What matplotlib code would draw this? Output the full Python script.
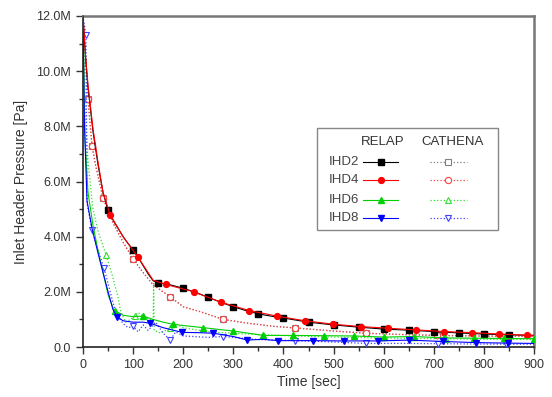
import numpy as np
import matplotlib.pyplot as plt
from matplotlib.lines import Line2D
from matplotlib.patches import Rectangle
from matplotlib.ticker import MultipleLocator, FuncFormatter

plt.rcParams['font.family'] = ['Liberation Sans', 'DejaVu Sans']

# ---- data (time in sec, pressure in MPa) ----
r2_t = [0, 5, 10, 20, 30, 40, 50, 60, 70, 80, 90, 100, 110, 120, 130, 140, 150, 175,
        200, 225, 250, 275, 300, 325, 350, 375, 400, 450, 500, 550, 600, 650, 700,
        750, 800, 850, 900]
r2_p = [12.0, 10.5, 9.4, 7.8, 6.6, 5.6, 4.95, 4.6, 4.3, 4.0, 3.75, 3.52, 3.25, 2.95,
        2.65, 2.4, 2.33, 2.25, 2.13, 1.98, 1.80, 1.62, 1.46, 1.32, 1.20, 1.12, 1.05,
        0.90, 0.80, 0.72, 0.65, 0.61, 0.56, 0.51, 0.47, 0.44, 0.42]
r2_mk = [50, 100, 150, 200, 250, 300, 350, 400, 450, 500, 550, 600, 650, 700, 750, 800, 850]

r4_t = [0, 5, 10, 20, 30, 40, 54, 80, 110, 140, 165, 221, 276, 332, 387, 443, 498,
        554, 609, 665, 720, 776, 831, 887, 900]
r4_p = [12.0, 10.6, 9.5, 7.9, 6.7, 5.6, 4.8, 4.0, 3.25, 2.42, 2.27, 2.0, 1.62, 1.32,
        1.12, 0.95, 0.83, 0.74, 0.68, 0.62, 0.56, 0.52, 0.47, 0.43, 0.42]
r4_mk = [54, 110, 165, 221, 276, 332, 387, 443, 498, 554, 609, 665, 720, 776, 831, 887]

r6_t = [0, 4, 10, 20, 30, 40, 50, 60, 64, 80, 100, 120, 140, 160, 180, 210, 240, 270,
        300, 330, 360, 420, 480, 540, 600, 660, 720, 780, 840, 900]
r6_p = [12.0, 7.5, 5.6, 4.4, 3.5, 2.7, 1.9, 1.4, 1.32, 1.15, 1.1, 1.12, 1.0, 0.9,
        0.82, 0.76, 0.70, 0.64, 0.58, 0.50, 0.42, 0.42, 0.41, 0.40, 0.36, 0.38, 0.33,
        0.32, 0.31, 0.30]
r6_mk = [64, 120, 180, 240, 300, 360, 420, 480, 540, 600, 660, 720, 780, 840, 900]

r8_t = [0, 3, 8, 18, 30, 40, 50, 60, 68, 80, 100, 120, 134, 160, 198, 230, 260, 300,
        328, 358, 390, 458, 520, 588, 650, 718, 784, 848, 900]
r8_p = [12.0, 8.0, 5.3, 4.3, 3.4, 2.7, 2.0, 1.35, 1.1, 0.95, 0.9, 0.9, 0.86, 0.7,
        0.53, 0.52, 0.50, 0.38, 0.25, 0.28, 0.23, 0.23, 0.22, 0.22, 0.25, 0.20, 0.16,
        0.14, 0.13]
r8_mk = [68, 134, 198, 260, 328, 390, 458, 520, 588, 650, 718, 784, 848]

c4_t = [0, 4, 10, 15, 18, 25, 40, 60, 80, 100, 120, 140, 174, 200, 234, 280, 330,
        380, 424, 500, 564, 640, 706, 780, 848, 900]
c4_p = [12.0, 10.8, 9.0, 7.9, 7.3, 6.6, 5.4, 4.5, 3.8, 3.19, 2.7, 2.25, 1.82, 1.46,
        1.28, 1.0, 0.86, 0.75, 0.69, 0.58, 0.50, 0.45, 0.42, 0.40, 0.39, 0.38]
c4_mk = [10, 18, 40, 100, 174, 280, 424, 564, 706, 848]

c2_t = c4_t
c2_p = [12.0, 10.8, 9.0, 7.9, 7.3, 6.6, 5.4, 4.5, 3.8, 3.19, 2.7, 2.25, 1.82, 1.46,
        1.28, 1.0, 0.86, 0.75, 0.69, 0.58, 0.50, 0.45, 0.42, 0.40, 0.39, 0.38]
c2_mk = c4_mk

c6_t = [0, 5, 10, 20, 30, 46, 60, 70, 75, 85, 95, 104, 110, 125, 140, 141, 142, 155,
        174, 180, 200, 250, 300, 350, 420, 500, 580, 660, 724, 800, 900]
c6_p = [12.0, 8.5, 6.7, 5.0, 4.2, 3.34, 2.5, 1.8, 1.3, 0.9, 1.0, 1.14, 1.25, 1.05,
        0.95, 2.3, 0.6, 0.5, 0.69, 0.9, 0.7, 0.55, 0.5, 0.45, 0.40, 0.36, 0.33, 0.31,
        0.30, 0.28, 0.27]
c6_mk = [46, 104, 174, 420, 724]

c8_t = [0, 6, 8, 18, 30, 42, 60, 70, 80, 90, 100, 110, 120, 130, 145, 160, 174, 185,
        200, 250, 280, 350, 424, 500, 564, 640, 708, 780, 844, 900]
c8_p = [12.0, 11.3, 5.2, 4.25, 3.5, 2.86, 1.6, 1.1, 0.85, 0.7, 0.75, 0.55, 0.8, 0.6,
        0.9, 0.5, 0.25, 0.55, 0.4, 0.35, 0.38, 0.27, 0.23, 0.18, 0.13, 0.13, 0.12,
        0.11, 0.10, 0.10]
c8_mk = [6, 18, 42, 100, 174, 280, 424, 564, 708, 844]

labels = ['IHD2', 'IHD4', 'IHD6', 'IHD8']
colors = ['black', '#ff0000', '#00d000', '#0000ff']
relap = [(r2_t, r2_p, r2_mk, 's'), (r4_t, r4_p, r4_mk, 'o'),
         (r6_t, r6_p, r6_mk, '^'), (r8_t, r8_p, r8_mk, 'v')]
cathena = [(c2_t, c2_p, c2_mk, 's'), (c4_t, c4_p, c4_mk, 'o'),
           (c6_t, c6_p, c6_mk, '^'), (c8_t, c8_p, c8_mk, 'v')]

fig = plt.figure(figsize=(5.52, 3.97), dpi=100)
ax = fig.add_axes([83 / 552, 50 / 397, 451 / 552, 331 / 397])

def mk_idx(t, mk):
    return [i for i, v in enumerate(t) if v in mk]

cath_col = ['#808080', '#ff4040', '#30e030', '#4040ff']
for (t, p, mk, m), c, z in zip(cathena, cath_col, [2, 3, 3, 3]):
    ax.plot(t, p, color=c, ls=':', lw=0.9, marker=m, ms=4.5, mfc='white',
            mec=c, mew=0.8, markevery=mk_idx(t, mk), zorder=z)
for (t, p, mk, m), c in zip(relap, colors):
    ax.plot(t, p, color=c, ls='-', lw=0.8, marker=m, ms=4.2, mfc=c, mec=c,
            markevery=mk_idx(t, mk), zorder=4)

ax.set_xlim(0, 900)
ax.set_ylim(0, 12)
ax.xaxis.set_major_locator(MultipleLocator(100))
ax.xaxis.set_minor_locator(MultipleLocator(50))
ax.yaxis.set_major_locator(MultipleLocator(2))
ax.yaxis.set_minor_locator(MultipleLocator(1))
ax.yaxis.set_major_formatter(FuncFormatter(lambda v, pos: '0.0' if v == 0 else '%.1fM' % v))
ax.tick_params(which='major', direction='out', length=5, width=1, colors='#333333',
               labelsize=9)
ax.tick_params(which='minor', direction='out', length=3, width=1, colors='#333333')
for s in ['left', 'bottom']:
    ax.spines[s].set_color('#222222')
    ax.spines[s].set_linewidth(1.2)
for s in ['top', 'right']:
    ax.spines[s].set_color('#777777')
    ax.spines[s].set_linewidth(1.8)

ax.set_xlabel('Time [sec]', fontsize=10, color='#333333', labelpad=3)
ax.set_ylabel('Inlet Header Pressure [Pa]', fontsize=10, color='#333333', labelpad=6)

# legend box drawn by hand
tr = ax.transAxes
ax.add_patch(Rectangle((0.519, 0.353), 0.401, 0.309, transform=tr, fill=True,
                       fc='white', ec='#888888', lw=1.0, zorder=6))
ax.text(0.665, 0.619, 'RELAP', transform=tr, ha='center', va='center',
        fontsize=9.5, color='#333333', zorder=7)
ax.text(0.820, 0.619, 'CATHENA', transform=tr, ha='center', va='center',
        fontsize=9.5, color='#333333', zorder=7)
rows_y = [0.559, 0.505, 0.444, 0.390]
for lab, y, c, cc, (_, _, _, m) in zip(labels, rows_y, colors, cath_col, relap):
    ax.text(0.612, y, lab, transform=tr, ha='right', va='center', fontsize=9.5,
            color='#444444', zorder=7)
    ax.add_line(Line2D([0.621, 0.698], [y, y], transform=tr, color=c, lw=0.8, zorder=7))
    ax.add_line(Line2D([0.660], [y], transform=tr, color=c, marker=m, ms=4.2, zorder=8))
    ax.add_line(Line2D([0.769, 0.851], [y, y], transform=tr, color=cc, lw=0.9,
                       ls=':', zorder=7))
    ax.add_line(Line2D([0.809], [y], transform=tr, color=cc, marker=m, ms=4.5,
                       mfc='white', mec=cc, mew=0.8, zorder=8))

fig.savefig('out.png', dpi=100)
